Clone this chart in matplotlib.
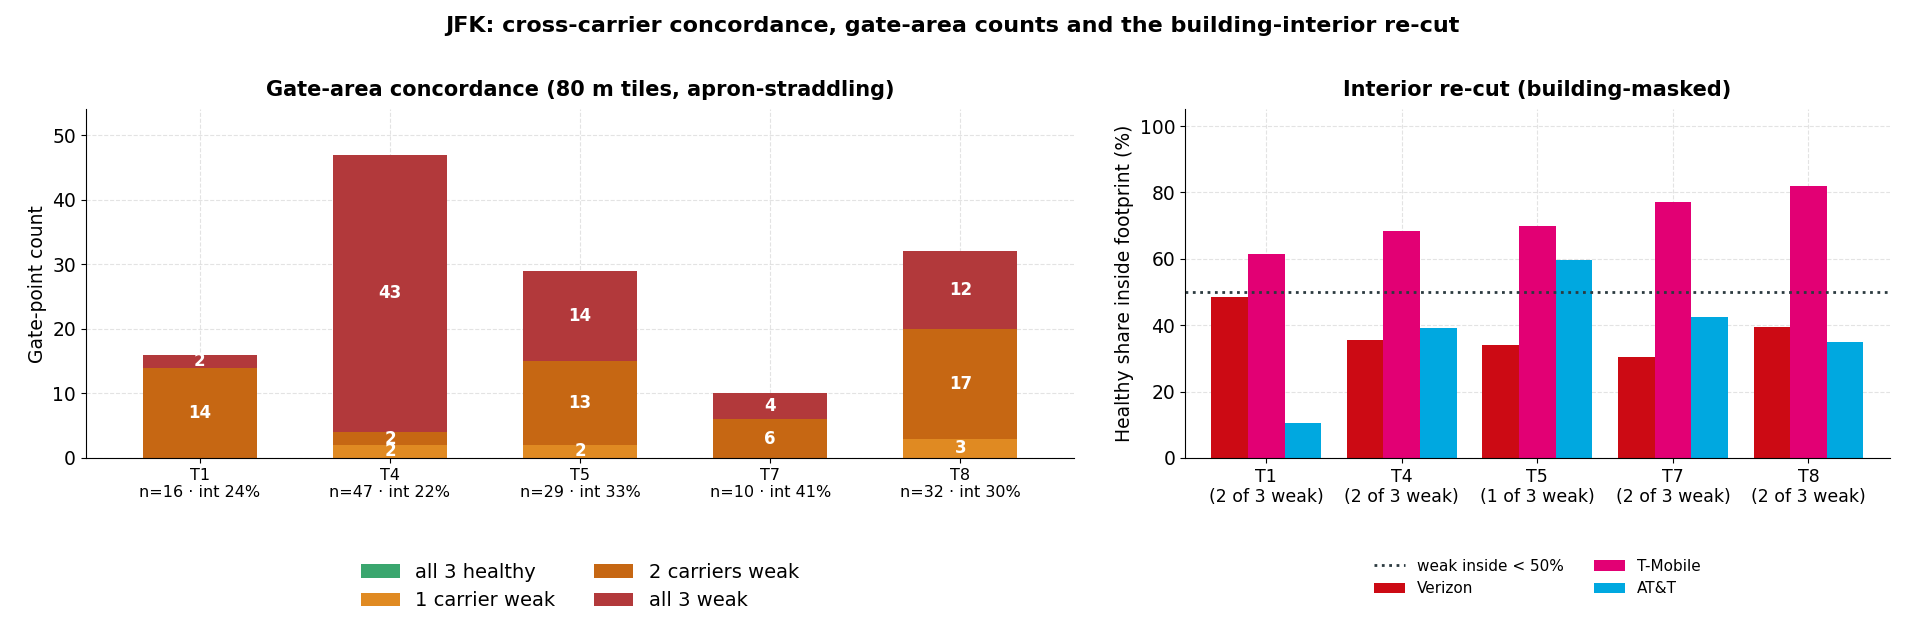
import numpy as np
import matplotlib.pyplot as plt

terminals = ["T1", "T4", "T5", "T7", "T8"]
n_pts = [16, 47, 29, 10, 32]
int_pct = [24, 22, 33, 41, 30]
healthy = [0, 0, 0, 0, 0]
one_weak = [0, 2, 2, 0, 3]
two_weak = [14, 2, 13, 6, 17]
all_weak = [2, 43, 14, 4, 12]

weak_note = ["2 of 3 weak", "2 of 3 weak", "1 of 3 weak", "2 of 3 weak", "2 of 3 weak"]
verizon = [48.5, 35.5, 34.0, 30.5, 39.5]
tmobile = [61.5, 68.5, 70.0, 77.0, 82.0]
att = [10.5, 39.0, 59.5, 42.5, 35.0]

fig = plt.figure(figsize=(19.05, 6.29), dpi=100)
ax1 = fig.add_axes([0.045, 0.272, 0.519, 0.554])
ax2 = fig.add_axes([0.622, 0.272, 0.370, 0.554])
fig.suptitle("JFK: cross-carrier concordance, gate-area counts and the building-interior re-cut",
             fontsize=16, fontweight="bold", y=0.975)

x = np.arange(len(terminals))
w = 0.6
stacks = [(healthy, "#3aa66e", "all 3 healthy"), (one_weak, "#e08a22", "1 carrier weak"),
          (two_weak, "#c66713", "2 carriers weak"), (all_weak, "#b2393b", "all 3 weak")]
bottom = np.zeros(len(x))
for vals, col, lab in stacks:
    vals = np.array(vals, dtype=float)
    ax1.bar(x, vals, w, bottom=bottom, color=col, label=lab)
    for xi, b, v in zip(x, bottom, vals):
        if v > 0:
            ax1.text(xi, b + v / 2, f"{int(v)}", ha="center", va="center",
                     color="white", fontweight="bold", fontsize=12)
    bottom += vals
ax1.set_xticks(x)
ax1.set_xticklabels([f"{t}\nn={n} · int {p}%" for t, n, p in zip(terminals, n_pts, int_pct)], fontsize=11.5)
ax1.set_ylim(0, 54)
ax1.set_xlim(-0.6, 4.6)
ax1.set_ylabel("Gate-point count", fontsize=13.5)
ax1.set_title("Gate-area concordance (80 m tiles, apron-straddling)", fontsize=15, fontweight="bold", pad=10)
ax1.grid(True, linestyle="--", alpha=0.35)
ax1.set_axisbelow(True)
ax1.tick_params(axis="y", labelsize=13.5)
for s in ["top", "right"]:
    ax1.spines[s].set_visible(False)
ax1.legend(ncol=2, loc="upper center", bbox_to_anchor=(0.5, -0.25), frameon=False, fontsize=14)

bw = 0.27
ax2.bar(x - bw, verizon, bw, color="#cc0a14", label="Verizon")
ax2.bar(x, tmobile, bw, color="#e20074", label="T-Mobile")
ax2.bar(x + bw, att, bw, color="#00a8e0", label="AT&T")
ax2.axhline(50, color="#2b3a40", linestyle=":", linewidth=2, label="weak inside < 50%")
ax2.set_xticks(x)
ax2.set_xticklabels([f"{t}\n({n})" for t, n in zip(terminals, weak_note)], fontsize=12.5)
ax2.set_ylim(0, 105)
ax2.set_xlim(-0.6, 4.6)
ax2.set_ylabel("Healthy share inside footprint (%)", fontsize=13.5)
ax2.set_title("Interior re-cut (building-masked)", fontsize=15, fontweight="bold", pad=10)
ax2.grid(True, linestyle="--", alpha=0.35)
ax2.set_axisbelow(True)
ax2.tick_params(axis="y", labelsize=13.5)
for s in ["top", "right"]:
    ax2.spines[s].set_visible(False)
ax2.legend(ncol=2, loc="upper center", bbox_to_anchor=(0.5, -0.25), frameon=False, fontsize=11)

fig.savefig("out.png", dpi=100)
